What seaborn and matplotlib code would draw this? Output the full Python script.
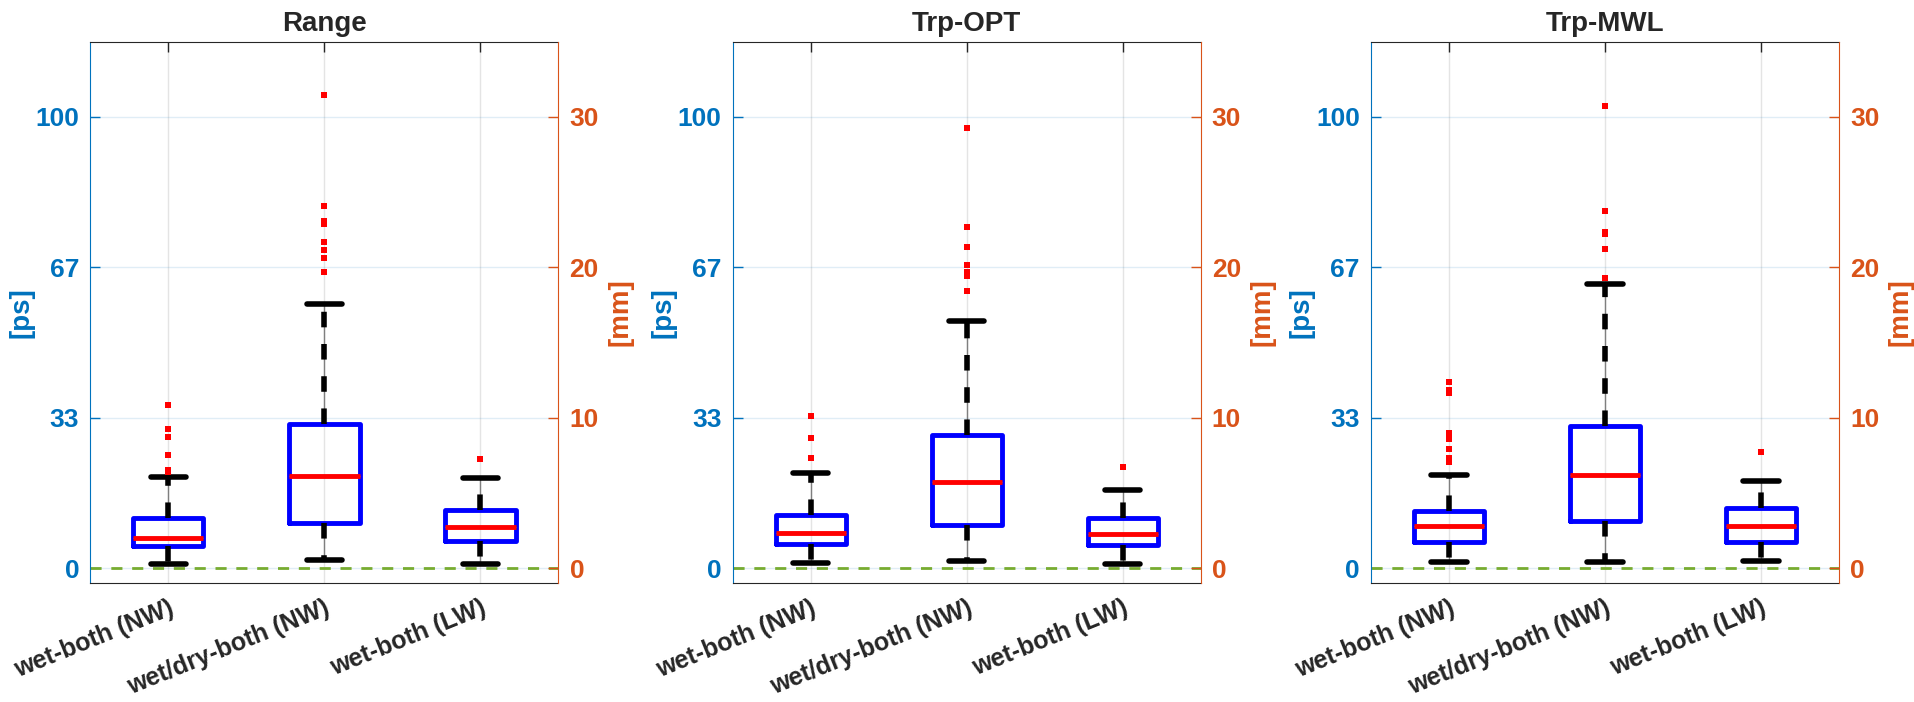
import numpy as np
import pandas as pd
import matplotlib
matplotlib.use("Agg")
import matplotlib.pyplot as plt
import seaborn as sns

#%% data (in mm)
categories = ["wet-both (NW)", "wet/dry-both (NW)", "wet-both (LW)"]
panels = ["Range", "Trp-OPT", "Trp-MWL"]

# per box: lower whisker, q1, median, q3, upper whisker
range_box = [[0.29, 1.49, 2.01, 3.34, 6.04],
             [0.55, 2.99, 6.16, 9.57, 17.58],
             [0.29, 1.83, 2.72, 3.88, 6.00]]
range_out = [[6.38, 6.54, 7.55, 8.70, 9.26, 10.85],
             [19.72, 20.60, 21.16, 21.70, 22.90, 23.10, 24.06, 31.45],
             [7.27]]

opt_box = [[0.36, 1.63, 2.31, 3.56, 6.32],
           [0.45, 2.85, 5.70, 8.87, 16.44],
           [0.30, 1.54, 2.26, 3.35, 5.19]]
opt_out = [[7.33, 8.64, 10.12],
           [18.43, 19.41, 19.67, 20.18, 21.36, 22.67, 29.29],
           [6.71]]

mwl_box = [[0.39, 1.72, 2.82, 3.83, 6.17],
           [0.39, 3.12, 6.23, 9.47, 18.90],
           [0.47, 1.72, 2.82, 4.00, 5.79]]
mwl_out = [[7.06, 7.21, 7.36, 7.95, 8.61, 8.99, 11.66, 11.87, 12.40],
           [19.30, 21.20, 22.20, 22.34, 23.77, 30.70],
           [7.72]]

mm_ticks = [0, 10, 20, 30]
ps_ticklabels = ["0", "33", "67", "100"]
mm_ticklabels = ["0", "10", "20", "30"]

box_rows, out_rows = [], []
for name, boxes, outs in zip(panels, [range_box, opt_box, mwl_box], [range_out, opt_out, mwl_out]):
    for cat, b, o in zip(categories, boxes, outs):
        box_rows += [(name, cat, v) for v in b]
        out_rows += [(name, cat, v) for v in o]
box_df = pd.DataFrame(box_rows, columns=["panel", "cat", "mm"])
out_df = pd.DataFrame(out_rows, columns=["panel", "cat", "mm"])

#%% plot
sns.set_style("white")
plt.rcParams["font.family"] = ["Liberation Sans", "DejaVu Sans"]
plt.rcParams["font.weight"] = "bold"

c_left = "#0072BD"
c_right = "#D95319"
c_dark = "#262626"

fig = plt.figure(figsize=(19.15, 7.02), dpi=100)
lefts = [0.0472, 0.3826, 0.7159]
for left, name in zip(lefts, panels):
    ax = fig.add_axes([left, 0.1691, 0.2444, 0.7715])
    ax.axhline(0, color="#77AC30", ls=(0, (4, 3.5)), lw=2, zorder=1.5)
    sub = box_df[box_df["panel"] == name]
    # thin grey whisker line underneath (matlab dashed whisker look)
    sns.boxplot(data=sub, x="cat", y="mm", order=categories,
                whis=(0, 100), width=0.45, fill=False, color="#7f7f7f", linewidth=1,
                showfliers=False, showcaps=False, ax=ax)
    sns.boxplot(data=sub, x="cat", y="mm", order=categories,
                whis=(0, 100), width=0.45, fill=False, color="blue", linewidth=3.5,
                showfliers=False,
                medianprops=dict(color="red", lw=3.5),
                whiskerprops=dict(color="k", lw=4, ls=(0, (2.8, 3))),
                capprops=dict(color="k", lw=4),
                ax=ax)
    sns.stripplot(data=out_df[out_df["panel"] == name], x="cat", y="mm", order=categories,
                  jitter=False, color="red", marker="s", size=4.5, linewidth=0, ax=ax, zorder=5)

    ax.set_xlim(-0.5, 2.5)
    ax.set_ylim(-1, 35)
    ax.set_axisbelow(True)
    ax.grid(axis="x", color=c_dark, alpha=0.12, lw=1)
    ax.grid(axis="y", color=c_left, alpha=0.12, lw=1)

    ax.set_xticks(range(len(categories)))
    ax.set_xticklabels(categories, rotation=22, ha="right", rotation_mode="anchor")
    ax.tick_params(axis="x", direction="in", top=True, length=7, width=1,
                   color=c_dark, labelcolor=c_dark, labelsize=18, pad=9)
    ax.set_yticks(mm_ticks)
    ax.set_yticklabels(ps_ticklabels)
    ax.tick_params(axis="y", direction="in", length=7, width=1, colors=c_left, labelsize=19, pad=8)
    ax.set_xlabel("")
    ax.set_ylabel("[ps]", color=c_left, fontsize=20, fontweight="bold", labelpad=1)
    ax.set_title(name, fontsize=20, fontweight="bold", pad=8)

    for s in ["top", "bottom"]:
        ax.spines[s].set_color(c_dark)
    ax.spines["left"].set_color(c_left)
    ax.spines["right"].set_visible(False)

    ax2 = ax.twinx()
    ax2.set_ylim(-1, 35)
    ax2.set_yticks(mm_ticks)
    ax2.set_yticklabels(mm_ticklabels)
    ax2.tick_params(axis="y", direction="in", length=7, width=1, colors=c_right, labelsize=19, pad=8)
    ax2.set_ylabel("[mm]", color=c_right, fontsize=20, fontweight="bold", labelpad=6)
    for s in ["top", "bottom", "left"]:
        ax2.spines[s].set_visible(False)
    ax2.spines["right"].set_color(c_right)

fig.savefig("out.png", dpi=100)
